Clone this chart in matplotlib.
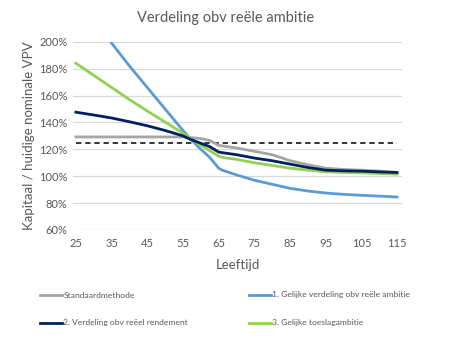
import matplotlib
matplotlib.use("Agg")
import matplotlib.pyplot as plt

plt.rcParams['font.family'] = ['Lato', 'DejaVu Sans']

ages_std = [25, 35, 45, 55, 57, 60, 62.5, 65, 70, 75, 80, 85, 90, 95, 100, 105, 110, 115]
std = [129.2, 129.2, 129.2, 129.2, 128.7, 128.0, 126.6, 122.9, 121.0, 118.5, 116.0, 111.6, 108.5, 106.0, 105.0, 104.5, 103.8, 102.8]

ages = [25, 30, 35, 40, 45, 50, 55, 57, 60, 62.5, 65, 66, 70, 75, 80, 85, 90, 95, 100, 105, 110, 115]
m1 = [240, 218, 199, 182, 166, 150, 134, 128, 120, 114, 106, 104.5, 101, 97, 94, 91, 89, 87.5, 86.5, 85.8, 85.2, 84.5]
m2 = [147.6, 145.5, 143.3, 140.5, 137.5, 134, 130, 127.5, 124.5, 122, 118, 117.5, 116, 113.5, 111.5, 109, 106.5, 104.5, 104, 103.75, 103.2, 102.75]
m3 = [184, 175, 166, 157, 148.5, 140.3, 132, 128, 123, 119, 115, 114, 112.5, 110, 108, 106, 104.5, 103.3, 102.8, 102.5, 102, 101.5]

ref_level = 125
xticks = [25, 35, 45, 55, 65, 75, 85, 95, 105, 115]
yticks = [60, 80, 100, 120, 140, 160, 180, 200]

labels = ["Standaardmethode", "1. Gelijke verdeling obv reële ambitie",
          "2. Verdeling obv reëel rendement", "3. Gelijke toeslagambitie"]
colors = ["#A5A5A5", "#5B9BD5", "#002060", "#92D050"]

W, H = 452, 346
fig = plt.figure(figsize=(W / 100, H / 100), dpi=100)
ax = fig.add_axes([73 / W, 1 - 230 / H, (402 - 73) / W, (230 - 41.7) / H])

ax.plot([ages[0], ages[-1]], [ref_level, ref_level], color='black', lw=1.1,
        linestyle=(0, (3.5, 2.5)), zorder=2)
l0, = ax.plot(ages_std, std, color=colors[0], lw=2.0, label=labels[0], zorder=3)
l1, = ax.plot(ages, m1, color=colors[1], lw=2.0, label=labels[1], zorder=3)
l2, = ax.plot(ages, m2, color=colors[2], lw=2.0, label=labels[2], zorder=4)
l3, = ax.plot(ages, m3, color=colors[3], lw=2.0, label=labels[3], zorder=3)

ax.set_xlim(24.2, 116.4)
ax.set_ylim(60, 200)
ax.set_xticks(xticks)
ax.set_yticks(yticks)
ax.set_yticklabels([f"{v}%" for v in yticks])
ax.grid(axis='y', color='#D9D9D9', lw=0.9)
ax.set_axisbelow(True)
for s in ax.spines.values():
    s.set_visible(False)
ax.tick_params(axis='x', length=0, labelsize=8, colors='#595959', pad=6)
ax.tick_params(axis='y', length=0, labelsize=8, colors='#595959', pad=4)

ax.set_xlabel("Leeftijd", fontsize=9.5, color='#595959', labelpad=7)
ax.set_ylabel("Kapitaal / huidige nominale VPV", fontsize=9.5, color='#595959', labelpad=3)
fig.text(0.5, 0.947, "Verdeling obv reële ambitie", ha='center', va='center',
         fontsize=10.5, color='#595959')

# legend entries: (handle, label, x px of handle start, y px of row centre)
entries = [(l0, labels[0], 40, 295), (l1, labels[1], 249, 295),
           (l2, labels[2], 40, 323), (l3, labels[3], 249, 323)]
for h, lab, xp, yp in entries:
    fig.legend(handles=[h], labels=[lab], loc='center left',
               bbox_to_anchor=(xp / W, 1 - yp / H), frameon=False,
               fontsize=6.1, handlelength=2.6, handletextpad=0.15,
               borderpad=0, borderaxespad=0, labelcolor='#595959')

fig.savefig("out.png", dpi=100)
